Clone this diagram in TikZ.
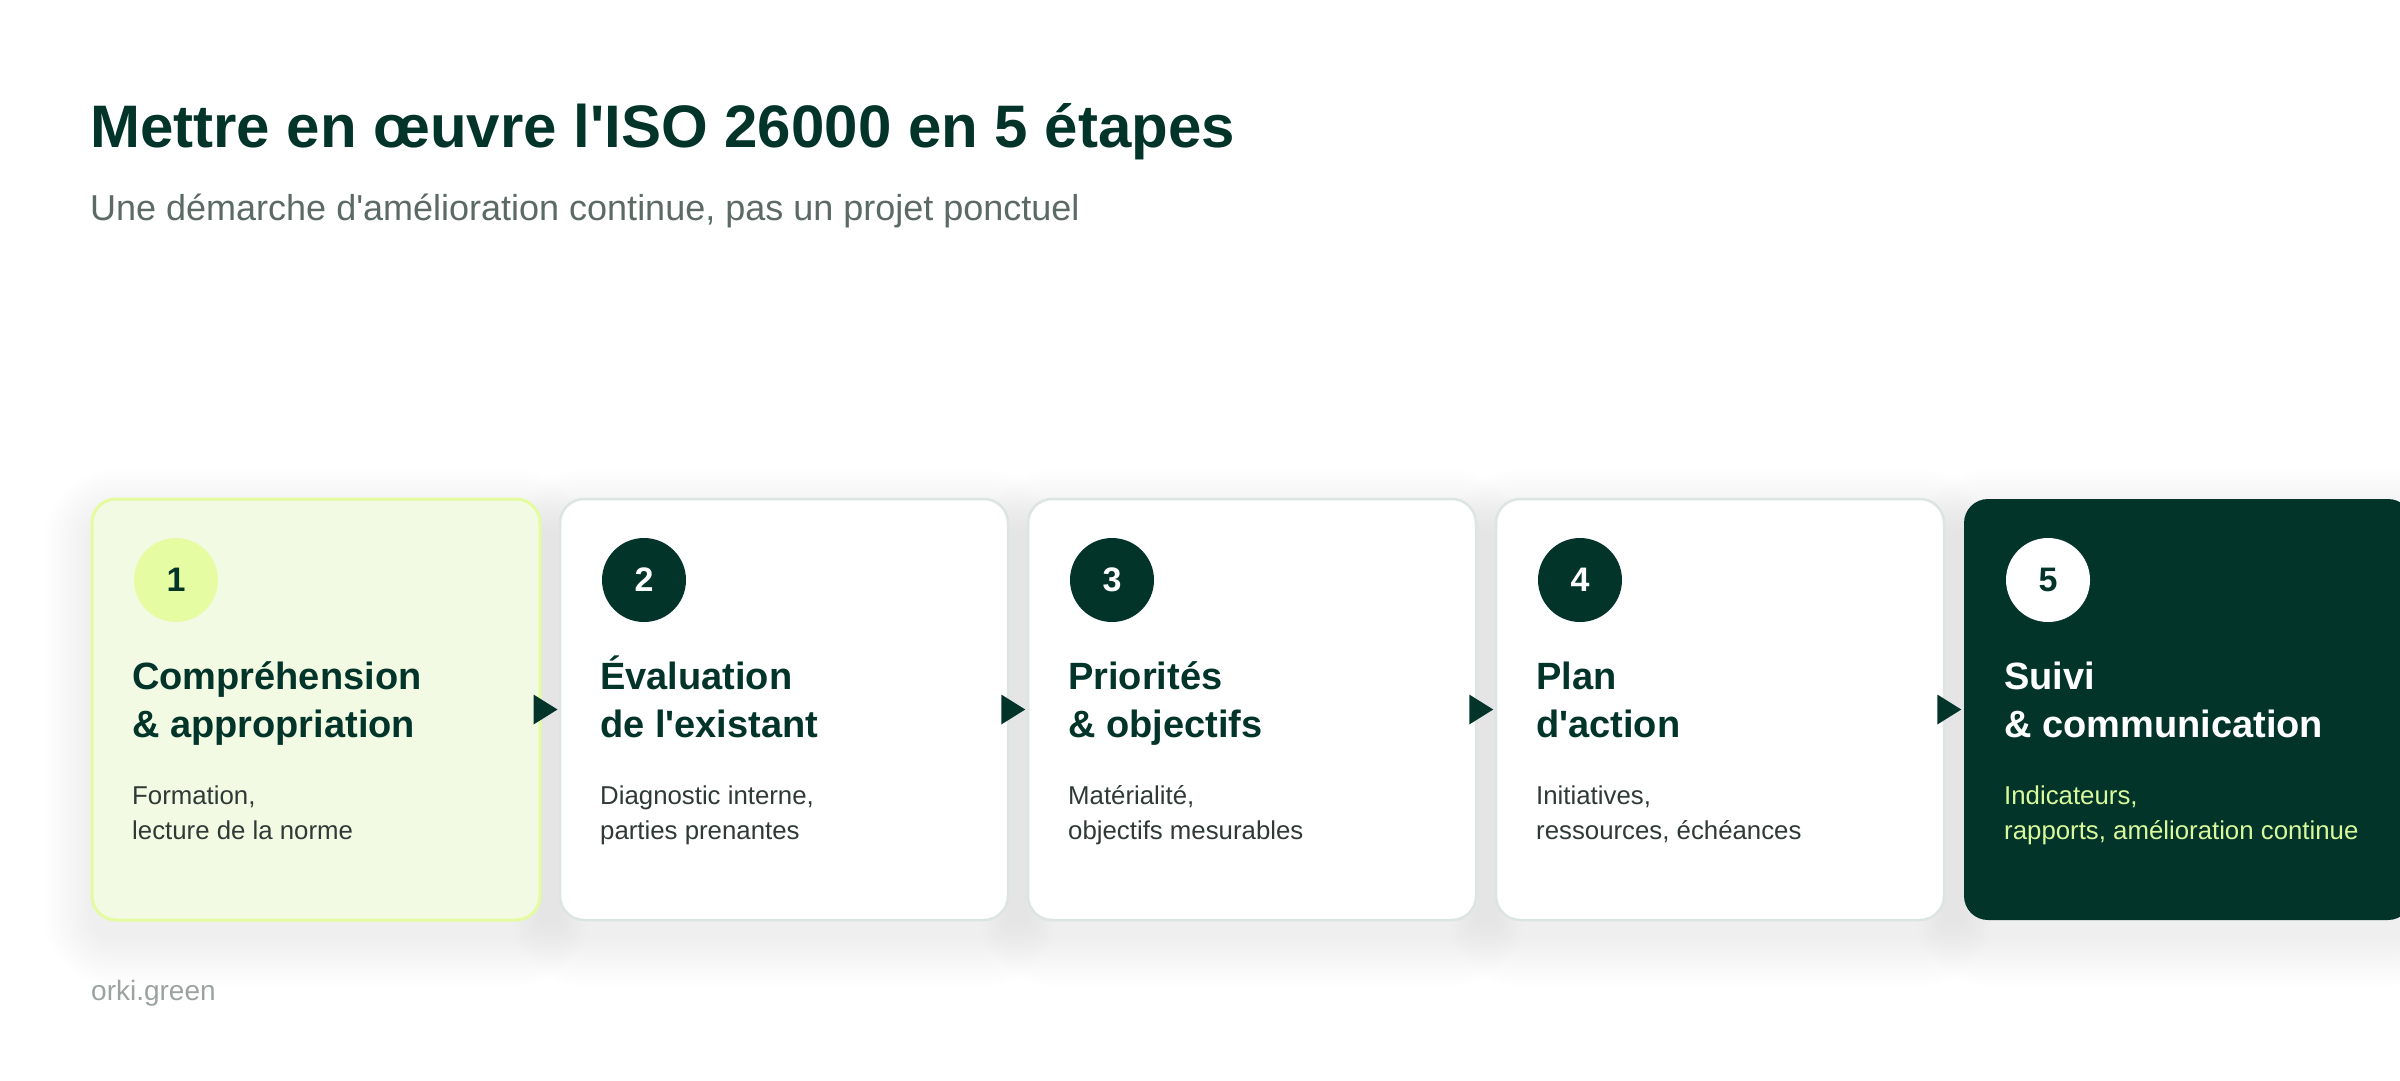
\documentclass[tikz,border=0pt]{standalone}
\usepackage{fontspec}
\setmainfont{Liberation Sans}[Ligatures=TeXOff]
\definecolor{dkgreen}{HTML}{03342A}
\definecolor{subgray}{HTML}{5C6A65}
\definecolor{footgray}{HTML}{9AA39F}
\definecolor{cardborder}{HTML}{DDE5E2}
\definecolor{limefill}{HTML}{F2FAE4}
\definecolor{limeborder}{HTML}{E4FBA0}
\definecolor{limecircle}{HTML}{E6FCA2}
\definecolor{limetext}{HTML}{D9F99D}
\definecolor{desccol}{HTML}{2F3A36}
\begin{document}
\begin{tikzpicture}[x=1pt,y=-1pt,
  card/.style={rectangle, rounded corners=24pt, minimum width=448pt, minimum height=421pt, inner sep=0pt, line width=2.5pt},
  wcard/.style={card, fill=white, draw=cardborder},
  num/.style={circle, minimum size=84pt, inner sep=0pt, font=\fontsize{34}{40}\selectfont\bfseries},
  ctitle/.style={anchor=base west, inner sep=0pt, font=\fontsize{38}{45}\selectfont\bfseries, text=dkgreen},
  cdesc/.style={anchor=base west, inner sep=0pt, font=\fontsize{25.8}{30}\selectfont, text=desccol},
  arrowtri/.style={fill=dkgreen}]
\useasboundingbox (0,0) rectangle (2400,1080);
\fill[white] (0,0) rectangle (2400,1080);

% titles
\node[anchor=base west, inner sep=0pt, font=\fontsize{60}{72}\selectfont\bfseries, text=dkgreen] (title) at (90,147) {Mettre en œuvre l'ISO 26000 en 5 étapes};
\node[anchor=base west, inner sep=0pt, font=\fontsize{36}{43}\selectfont, text=subgray] (subtitle) at (90,220) {Une démarche d'amélioration continue, pas un projet ponctuel};

% shadows
\foreach \i in {0,...,4}{
  \foreach \k in {1,...,16}{
    \fill[black, fill opacity=0.0035, rounded corners={24+3*\k}]
      ({92+468*\i-3*\k},{499-3*\k+18}) rectangle ({540+468*\i+3*\k},{920+3*\k+18});
  }
}

% cards
\node[card, fill=limefill, draw=limeborder, line width=3pt] (c1) at (316,709.5) {};
\node[wcard] (c2) at (784,709.5) {};
\node[wcard] (c3) at (1252,709.5) {};
\node[wcard] (c4) at (1720,709.5) {};
\node[card, fill=dkgreen] (c5) at (2188,709.5) {};

% numbers
\node[num, fill=limecircle, text=dkgreen] (n1) at (176,580) {1};
\node[num, fill=dkgreen, text=white] (n2) at (644,580) {2};
\node[num, fill=dkgreen, text=white] (n3) at (1112,580) {3};
\node[num, fill=dkgreen, text=white] (n4) at (1580,580) {4};
\node[num, fill=white, text=dkgreen] (n5) at (2048,580) {5};

% card titles
\node[ctitle] (t1a) at (132,689) {Compréhension};
\node[ctitle] (t1b) at (132,737) {\& appropriation};
\node[ctitle] (t2a) at (600,689) {Évaluation};
\node[ctitle] (t2b) at (600,737) {de l'existant};
\node[ctitle] (t3a) at (1068,689) {Priorités};
\node[ctitle] (t3b) at (1068,737) {\& objectifs};
\node[ctitle] (t4a) at (1536,689) {Plan};
\node[ctitle] (t4b) at (1536,737) {d'action};
\node[ctitle, text=white] (t5a) at (2004,689) {Suivi};
\node[ctitle, text=white] (t5b) at (2004,737) {\& communication};

% descriptions
\node[cdesc] (d1a) at (132,804) {Formation,};
\node[cdesc] (d1b) at (132,839.5) {lecture de la norme};
\node[cdesc] (d2a) at (600,804) {Diagnostic interne,};
\node[cdesc] (d2b) at (600,839.5) {parties prenantes};
\node[cdesc] (d3a) at (1068,804) {Matérialité,};
\node[cdesc] (d3b) at (1068,839.5) {objectifs mesurables};
\node[cdesc] (d4a) at (1536,804) {Initiatives,};
\node[cdesc] (d4b) at (1536,839.5) {ressources, échéances};
\node[cdesc, text=limetext] (d5a) at (2004,804) {Indicateurs,};
\node[cdesc, text=limetext] (d5b) at (2004,839.5) {rapports, amélioration continue};

% arrows between cards
\foreach \c in {c1,c2,c3,c4}{
  \fill[arrowtri] ([shift={(-8,-15)}]\c.east) -- ([shift={(16,0)}]\c.east) -- ([shift={(-8,15)}]\c.east) -- cycle;
}

% footer
\node[anchor=base west, inner sep=0pt, font=\fontsize{28}{33}\selectfont, text=footgray] (footer) at (91,1000) {orki.green};
\end{tikzpicture}
\end{document}
